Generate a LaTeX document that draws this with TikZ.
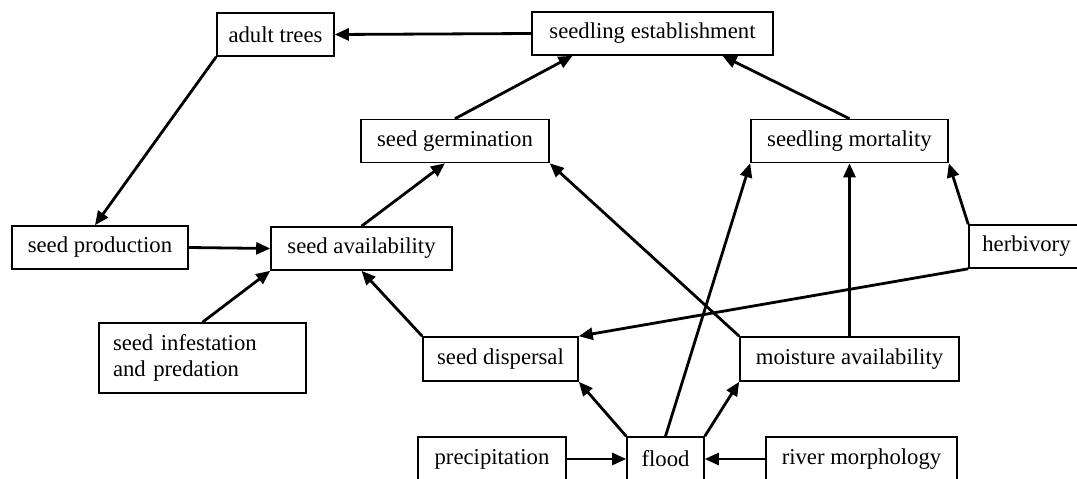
\documentclass[tikz,border=0pt]{standalone}
\usepackage{fontspec}
\setmainfont{Liberation Serif}
\usetikzlibrary{arrows.meta}

\begin{document}
\begin{tikzpicture}[x=1pt, y=-1pt,
    box/.style={draw, line width=1.6pt, minimum height=43pt, inner sep=0pt,
                font=\fontsize{22.7}{26}\selectfont},
    arr/.style={line width=2.8pt, -{Triangle[length=14pt,width=12pt]}}]
    \useasboundingbox[fill=white] (0,0) rectangle (1077,479);
    % top row
    \node[box, minimum width=117pt] (adult) at (275.5,34.5) {adult trees};
    \node[box, minimum width=241pt] (estab) at (652.5,33.5) {seedling establishment};
    % middle
    \node[box, minimum width=188pt] (germ) at (455,141) {seed germination};
    \node[box, minimum width=197pt] (mort) at (849.5,141) {seedling mortality};
    \node[box, minimum width=176pt] (prod) at (100,247.5) {seed production};
    \node[box, minimum width=181pt] (avail) at (361.5,248.5) {seed availability};
    \node[box, minimum width=115pt] (herb) at (1026.5,246.5) {herbivory};
    \node[box, minimum width=207pt, minimum height=70pt, align=left,
          text width=179pt] (infest) at (202.5,358) {seed infestation\\and predation};
    \node[box, minimum width=155pt, minimum height=44pt] (disp) at (500.5,359) {seed dispersal};
    \node[box, minimum width=219pt, minimum height=44pt] (moist) at (849.5,359) {moisture availability};
    % bottom row
    \node[box, minimum width=148pt, minimum height=44pt] (precip) at (492,459) {precipitation};
    \node[box, minimum width=77pt, minimum height=44pt] (flood) at (665.5,459) {flood};
    \node[box, minimum width=191pt, minimum height=44pt] (river) at (861.5,459) {river morphology};

    \draw[arr] (estab.west) -- (adult.east);
    \draw[arr] (adult.south west) -- ([xshift=-5pt]prod.north);
    \draw[arr] (prod.east) -- (avail.west);
    \draw[arr] (infest.north) -- (avail.south west);
    \draw[arr] (disp.north west) -- (avail.south);
    \draw[arr] (avail.north) -- ([xshift=-10pt]germ.south);
    \draw[arr] (germ.north) -- ([xshift=-80pt]estab.south);
    \draw[arr] (mort.north) -- ([xshift=70pt]estab.south);
    \draw[arr] (moist.north west) -- (germ.south east);
    \draw[arr] (moist.north) -- (mort.south);
    \draw[arr] (herb.north west) -- (mort.south east);
    \draw[arr] (herb.south west) -- (disp.north east);
    \draw[arr] (flood.north west) -- (disp.south east);
    \draw[arr] (flood.north) -- (mort.south west);
    \draw[arr] (flood.north east) -- (moist.south west);
    \draw[arr] (precip.east) -- (flood.west);
    \draw[arr] (river.west) -- (flood.east);
\end{tikzpicture}
\end{document}
